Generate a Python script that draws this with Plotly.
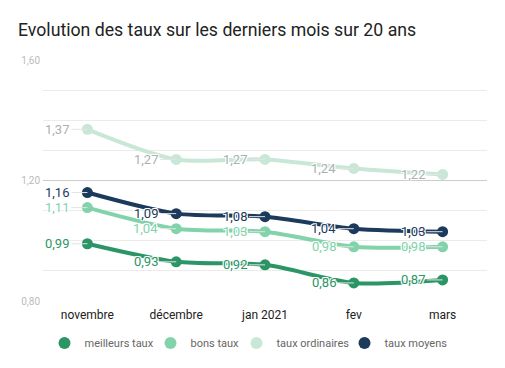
import plotly.graph_objects as go

categories = ["novembre", "décembre", "jan 2021", "fev", "mars"]
meilleurs = [0.99, 0.93, 0.92, 0.86, 0.87]
bons = [1.11, 1.04, 1.03, 0.98, 0.98]
ordinaires = [1.37, 1.27, 1.27, 1.24, 1.22]
moyens = [1.16, 1.09, 1.08, 1.04, 1.03]
y_ticks = [0.8, 1.2, 1.6]
y_tick_labels = ["0,80", "1,20", "1,60"]

series = [
    ("meilleurs taux", meilleurs, "#2b9566", "#2b9566"),
    ("bons taux", bons, "#82d3ab", "#82d3ab"),
    ("taux ordinaires", ordinaires, "#c9e7d7", "#a9b2ae"),
    ("taux moyens", moyens, "#1b3a5c", "#1b3a5c"),
]

W, H = 497, 360  # page body has an 8px margin
fig = go.Figure()
x = list(range(len(categories)))
for name, vals, col, lcol in series:
    fig.add_trace(go.Scatter(
        x=x, y=vals, mode="lines+markers", name=name, showlegend=False,
        line=dict(color=col, width=4, shape="spline", smoothing=0.8),
        marker=dict(color=col, size=11), hoverinfo="skip"))

legend_names = ["legend", "legend2", "legend3", "legend4"]
legend_left = [36.5, 142.5, 228.5, 336.5]
for (name, vals, col, lcol), lg in zip(series, legend_names):
    fig.add_trace(go.Scatter(
        x=[None], y=[None], mode="markers", name=name, legend=lg,
        marker=dict(color=col, size=13)))

halo = "-1px -1px 0 #fff, 1px -1px 0 #fff, -1px 1px 0 #fff, 1px 1px 0 #fff"
for name, vals, col, lcol in series:
    for i, v in enumerate(vals):
        fig.add_annotation(
            x=x[i], y=v, xref="x", yref="y",
            text=f"{v:.2f}".replace(".", ","),
            showarrow=True, arrowhead=0, arrowwidth=1, arrowcolor="#e3e3e3",
            ax=-16, ay=0, xanchor="right", yanchor="middle",
            font=dict(family="Roboto", size=13, color=lcol, shadow=halo))

legend_style = dict(xref="container", yref="container", xanchor="left",
                    yanchor="middle", y=1 - 335 / H, orientation="h",
                    font=dict(size=11, color="#666"), itemsizing="constant",
                    bgcolor="rgba(0,0,0,0)", borderwidth=0)
layout_legends = {}
for lg, lx in zip(legend_names, legend_left):
    layout_legends[lg] = dict(legend_style, x=lx / W)

fig.update_layout(
    width=W, height=H,
    margin=dict(l=35, r=18, t=52, b=67, autoexpand=False),
    paper_bgcolor="white", plot_bgcolor="white",
    font=dict(family="Roboto", color="#222"),
    title=dict(text="Evolution des taux sur les derniers mois sur 20 ans",
               x=10 / W, xanchor="left", y=1 - 22 / H, yanchor="middle",
               font=dict(family="Roboto", size=17.7, color="#222")),
    xaxis=dict(tickmode="array", tickvals=x, ticktext=categories,
               range=[-0.5, 4.5], showgrid=False, zeroline=False, showline=False,
               ticks="", ticklabelstandoff=5, tickfont=dict(size=12, color="#222")),
    yaxis=dict(range=[0.8, 1.6], tickmode="array", tickvals=y_ticks,
               ticktext=y_tick_labels, gridcolor="#cccccc", gridwidth=1,
               zeroline=False, showline=False, ticks="", ticklabelstandoff=2,
               tickfont=dict(size=10, color="#bbbbbb"),
               minor=dict(dtick=0.1, showgrid=True, gridcolor="#ebebeb", gridwidth=1)),
    **layout_legends,
)
fig.write_html("out.html")
